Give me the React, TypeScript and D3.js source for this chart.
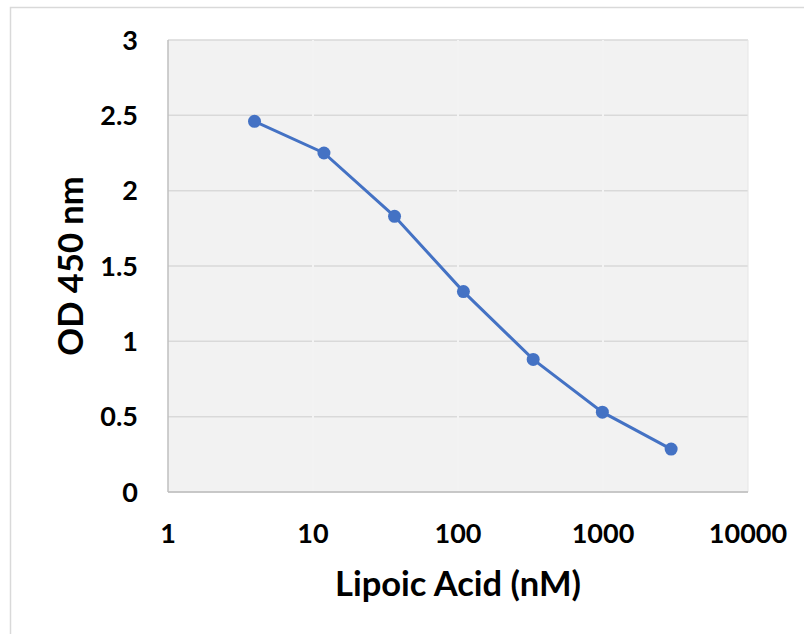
import React from "react";
import * as d3 from "d3";

const concentrations = [3.95, 11.9, 36.5, 109, 330, 990, 2950];
const odValues = [2.46, 2.25, 1.83, 1.33, 0.88, 0.53, 0.285];
const xTicks = [1, 10, 100, 1000, 10000];
const yTicks = [0, 0.5, 1, 1.5, 2, 2.5, 3];
const xTitle = "Lipoic Acid (nM)";
const yTitle = "OD 450 nm";

const W = 804;
const H = 634;
const M = { left: 168, right: 748, top: 40, bottom: 492 };
const FONT = "Lato, 'Open Sans', sans-serif";

export default function App() {
  const x = d3.scaleLog().domain([1, 10000]).range([M.left, M.right]);
  const y = d3.scaleLinear().domain([0, 3]).range([M.bottom, M.top]);
  const pts = concentrations.map((c, i) => [x(c), y(odValues[i])] as [number, number]);
  const line = d3.line()(pts) || "";
  return (
    <svg width={W} height={H} style={{ position: "absolute", left: 0, top: 0 }} fontFamily={FONT}>
      <rect x={0} y={0} width={W} height={H} fill="#fff" />
      <rect x={10.5} y={7.5} width={W + 20} height={H + 20} fill="none" stroke="#d9d9d9" strokeWidth={1.5} />
      <rect x={M.left} y={M.top} width={M.right - M.left} height={M.bottom - M.top} fill="#f2f2f2" />
      {yTicks.map((t) => (
        <line key={"g" + t} x1={M.left} x2={M.right} y1={y(t)} y2={y(t)} stroke="#d9d9d9" strokeWidth={1.5} />
      ))}
      {xTicks.slice(1, -1).map((t) => (
        <line key={"v" + t} x1={x(t)} x2={x(t)} y1={M.top} y2={M.bottom - 1} stroke="#f3f3f3" strokeWidth={2} />
      ))}
      <line x1={M.right} x2={M.right} y1={M.top} y2={M.bottom} stroke="#e6e6e6" strokeWidth={1} />
      <line x1={M.left} x2={M.left} y1={M.top} y2={M.bottom} stroke="#bfbfbf" strokeWidth={1.5} />
      <line x1={M.left} x2={M.right} y1={M.bottom} y2={M.bottom} stroke="#bfbfbf" strokeWidth={1.5} />
      {yTicks.map((t) => (
        <text key={"yt" + t} x={138} y={y(t)} dy="0.36em" textAnchor="end" fontSize={27} fontWeight={700} fill="#000">
          {t}
        </text>
      ))}
      {xTicks.map((t) => (
        <text key={"xt" + t} x={x(t)} y={543} textAnchor="middle" fontSize={27} fontWeight={700} fill="#000">
          {t}
        </text>
      ))}
      <text x={(M.left + M.right) / 2} y={596} textAnchor="middle" fontSize={34.5} fontWeight={700} fill="#000">
        {xTitle}
      </text>
      <text
        transform={`translate(83, ${(M.top + M.bottom) / 2}) rotate(-90)`}
        textAnchor="middle"
        fontSize={34.5}
        fontWeight={700}
        fill="#000"
      >
        {yTitle}
      </text>
      <path d={line} fill="none" stroke="#4472c4" strokeWidth={3} />
      {pts.map((p, i) => (
        <circle key={i} cx={p[0]} cy={p[1]} r={6.5} fill="#4472c4" />
      ))}
    </svg>
  );
}
